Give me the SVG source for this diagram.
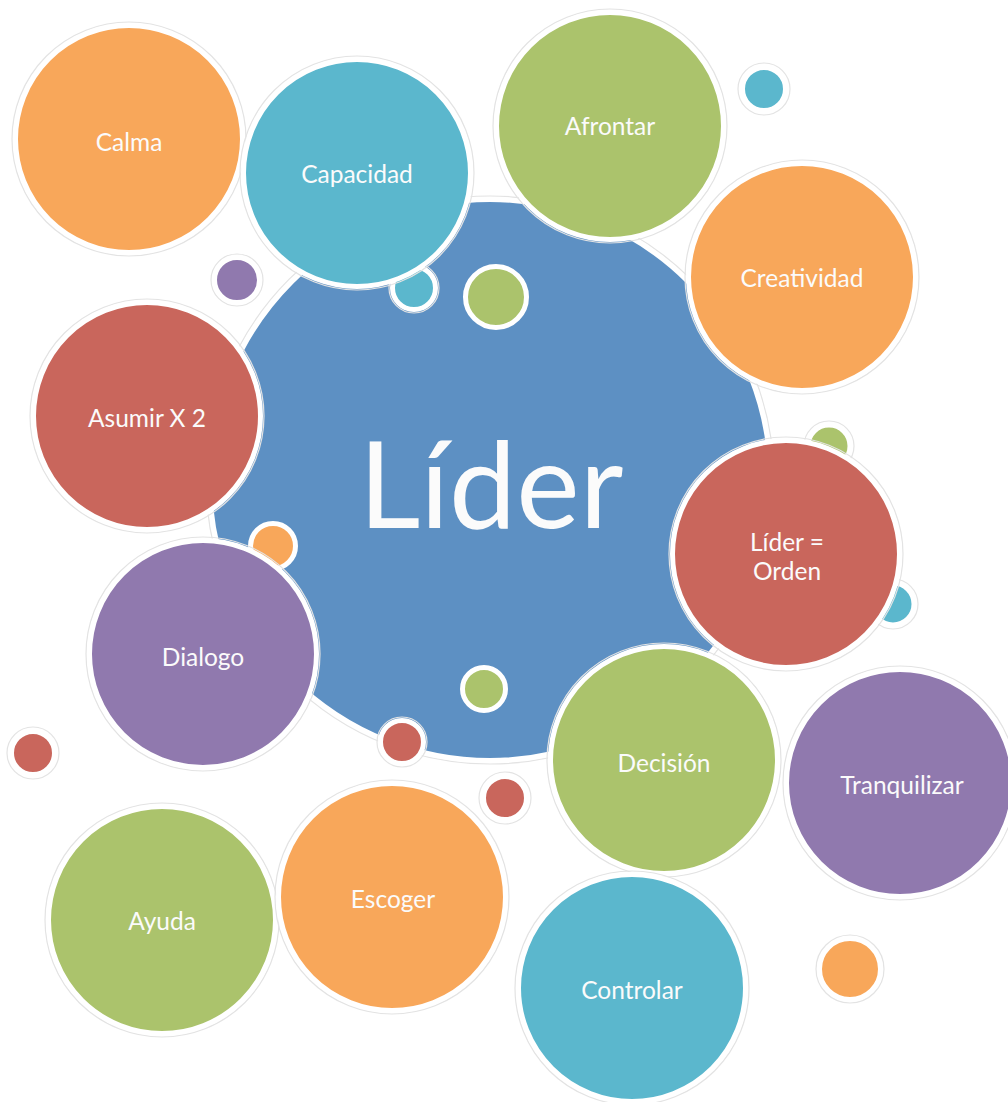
<svg xmlns="http://www.w3.org/2000/svg" width="1008" height="1102" viewBox="0 0 1008 1102">
<style>
.halo{fill:none;stroke:#e3e3e3;stroke-width:1.2}
.b{stroke:#ffffff;stroke-width:5}
.blue{fill:#5D90C3}
.orange{fill:#F8A75A}
.cyan{fill:#5BB7CD}
.green{fill:#ABC36C}
.red{fill:#C9665C}
.purple{fill:#9079AE}
.t{font-family:Lato,"Open Sans","Liberation Sans",sans-serif;font-size:24.5px;fill:#FBFBFB;text-anchor:middle}
.big{font-size:120px}
</style>
<rect width="1008" height="1102" fill="#ffffff"/>
<g id="connectors"/>
<g id="lider">
<circle class="halo" cx="490" cy="480" r="284"/>
<circle class="b blue" cx="490" cy="480" r="280.5"/>
<text class="t big" x="491" y="528">Líder</text>
</g>
<g id="dot-cyan-1"><circle class="halo" cx="414" cy="288" r="25"/><circle class="b cyan" cx="414" cy="288" r="21.5"/></g>
<g id="dot-green-1"><circle class="b green" cx="496" cy="297" r="30.5"/></g>
<g id="dot-purple-1"><circle class="halo" cx="237" cy="280" r="26"/><circle class="b purple" cx="237" cy="280" r="22.5"/></g>
<g id="dot-cyan-2"><circle class="halo" cx="764" cy="89" r="26"/><circle class="b cyan" cx="764" cy="89" r="21.5"/></g>
<g id="dot-green-2"><circle class="halo" cx="829" cy="446" r="25"/><circle class="b green" cx="829" cy="446" r="21"/></g>
<g id="dot-cyan-3"><circle class="halo" cx="893" cy="604" r="25"/><circle class="b cyan" cx="893" cy="604" r="21"/></g>
<g id="dot-orange-1"><circle class="b orange" cx="273" cy="546" r="22.5"/></g>
<g id="dot-green-3"><circle class="b green" cx="484" cy="689" r="21.5"/></g>
<g id="dot-red-1"><circle class="halo" cx="402" cy="742" r="25"/><circle class="b red" cx="402" cy="742" r="21.5"/></g>
<g id="dot-red-2"><circle class="halo" cx="505" cy="798" r="26"/><circle class="b red" cx="505" cy="798" r="21.5"/></g>
<g id="dot-red-3"><circle class="halo" cx="33" cy="753" r="26"/><circle class="b red" cx="33" cy="753" r="21.5"/></g>
<g id="dot-orange-2"><circle class="halo" cx="850" cy="969" r="34"/><circle class="b orange" cx="850" cy="969" r="30.5"/></g>
<g id="calma"><circle class="halo" cx="129" cy="139" r="117"/><circle class="b orange" cx="129" cy="139" r="113.5"/><text class="t" x="129" y="151">Calma</text></g>
<g id="capacidad"><circle class="halo" cx="357" cy="173" r="117"/><circle class="b cyan" cx="357" cy="173" r="113.5"/><text class="t" x="357" y="183">Capacidad</text></g>
<g id="afrontar"><circle class="halo" cx="610" cy="126" r="117"/><circle class="b green" cx="610" cy="126" r="113.5"/><text class="t" x="610" y="135">Afrontar</text></g>
<g id="creatividad"><circle class="halo" cx="802" cy="277" r="117"/><circle class="b orange" cx="802" cy="277" r="113.5"/><text class="t" x="802" y="287">Creatividad</text></g>
<g id="asumir"><circle class="halo" cx="147" cy="416" r="117"/><circle class="b red" cx="147" cy="416" r="113.5"/><text class="t" x="147" y="427">Asumir X 2</text></g>
<g id="lider-orden"><circle class="halo" cx="786" cy="554" r="117"/><circle class="b red" cx="786" cy="554" r="113.5"/><text class="t" x="787" y="551">Líder =</text><text class="t" x="787" y="580">Orden</text></g>
<g id="dialogo"><circle class="halo" cx="203" cy="654" r="117"/><circle class="b purple" cx="203" cy="654" r="113.5"/><text class="t" x="203" y="666">Dialogo</text></g>
<g id="decision"><circle class="halo" cx="664" cy="760" r="117"/><circle class="b green" cx="664" cy="760" r="113.5"/><text class="t" x="664" y="772">Decisión</text></g>
<g id="tranquilizar"><circle class="halo" cx="900" cy="783" r="117"/><circle class="b purple" cx="900" cy="783" r="113.5"/><text class="t" x="902" y="794">Tranquilizar</text></g>
<g id="ayuda"><circle class="halo" cx="162" cy="920" r="117"/><circle class="b green" cx="162" cy="920" r="113.5"/><text class="t" x="162" y="930">Ayuda</text></g>
<g id="escoger"><circle class="halo" cx="392" cy="897" r="117"/><circle class="b orange" cx="392" cy="897" r="113.5"/><text class="t" x="393" y="908">Escoger</text></g>
<g id="controlar"><circle class="halo" cx="632" cy="988" r="117"/><circle class="b cyan" cx="632" cy="988" r="113.5"/><text class="t" x="632" y="999">Controlar</text></g>
</svg>
